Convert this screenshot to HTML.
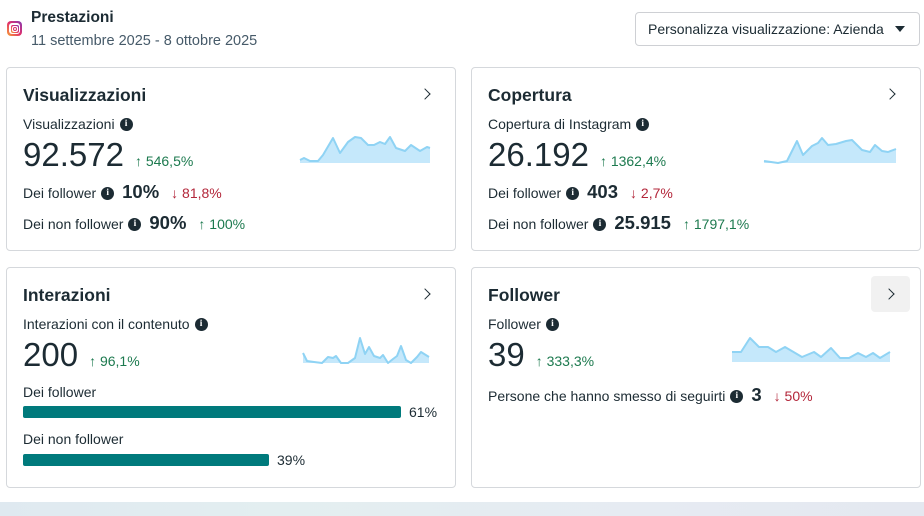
<!DOCTYPE html>
<html><head><meta charset="utf-8">
<style>
*{margin:0;padding:0;box-sizing:border-box}
body{width:924px;height:516px;background:#fff;font-family:"Liberation Sans",sans-serif;color:#1c2b33;position:relative;overflow:hidden}
.a{position:absolute;line-height:1;white-space:nowrap}
.card{position:absolute;border:1px solid #d5d8dc;border-radius:4px;background:#fff}
.t{font-size:17.5px;font-weight:bold}
.l{font-size:14px;color:#1c2b33}
.big{font-size:33px;color:#1c2b33}
.g{color:#1d7a4f;font-size:14px}
.r{color:#b3263a;font-size:14px}
.b{font-weight:bold;font-size:18.5px}
.row{display:flex;align-items:baseline}
.i{display:inline-block;width:13px;height:13px;border-radius:50%;background:#1c2b33;color:#fff;font-size:9.5px;font-weight:bold;text-align:center;line-height:13px;font-family:"Liberation Serif",serif;margin-left:5px;position:relative;top:-3px;vertical-align:0px}
.row .i{align-self:center;top:1px}
.chev{position:absolute;width:8px;height:8px;border-right:1.6px solid #1c2b33;border-top:1.6px solid #1c2b33;transform:rotate(45deg)}
.bar{position:absolute;height:12px;background:#007a7c;border-radius:2px}
</style></head><body>
<div class="a" style="left:7px;top:21px;width:15px;height:15px;border-radius:4px;background:linear-gradient(45deg,#f9a334,#e1306c 50%,#833ab4)"></div>
<div class="a" style="left:9px;top:23px;width:11px;height:11px;border-radius:3px;background:#fff"></div>
<div class="a" style="left:10.5px;top:24.5px;width:8px;height:8px;border-radius:2px;background:linear-gradient(45deg,#f9a334,#e1306c 50%,#833ab4)"></div>
<div class="a" style="left:11.5px;top:25.5px;width:6px;height:6px;border-radius:2px;background:#fff"></div>
<div class="a" style="left:12.5px;top:26.5px;width:4px;height:4px;border-radius:50%;border:1.2px solid #d6336c"></div>
<div class="a" style="left:31px;top:10px;font-size:15.5px;font-weight:bold">Prestazioni</div>
<div class="a" style="left:31px;top:34px;font-size:14.5px;color:#465a69">11 settembre 2025 - 8 ottobre 2025</div>
<div class="a" style="left:635px;top:12px;width:285px;height:34px;border:1px solid #ced0d4;border-radius:4px"></div>
<div class="a" style="left:648px;top:22px;font-size:14px">Personalizza visualizzazione: Azienda</div>
<div class="a" style="left:895px;top:26px;width:0;height:0;border-left:5.5px solid transparent;border-right:5.5px solid transparent;border-top:6px solid #1c2b33"></div>

<div class="card" style="left:6px;top:67px;width:450px;height:184px"></div>
<div class="card" style="left:471px;top:67px;width:450px;height:184px"></div>
<div class="card" style="left:6px;top:267px;width:450px;height:221px"></div>
<div class="card" style="left:471px;top:267px;width:450px;height:221px"></div>

<div class="a t" style="left:23px;top:87px">Visualizzazioni</div>
<div class="chev" style="left:421px;top:90px"></div>
<div class="a l" style="left:23px;top:117px">Visualizzazioni<span class="i">i</span></div>
<div class="a row" style="left:23px;top:138px"><span class="big">92.572</span><span class="g" style="margin-left:11px">↑ 546,5%</span></div>
<div class="a row l" style="left:23px;top:183px">Dei follower<span class="i">i</span><span class="b" style="margin-left:8px">10%</span><span class="r" style="margin-left:12px">↓ 81,8%</span></div>
<div class="a row l" style="left:23px;top:214px">Dei non follower<span class="i">i</span><span class="b" style="margin-left:8px">90%</span><span class="g" style="margin-left:12px">↑ 100%</span></div>

<div class="a t" style="left:488px;top:87px">Copertura</div>
<div class="chev" style="left:886px;top:90px"></div>
<div class="a l" style="left:488px;top:117px">Copertura di Instagram<span class="i">i</span></div>
<div class="a row" style="left:488px;top:138px"><span class="big">26.192</span><span class="g" style="margin-left:11px">↑ 1362,4%</span></div>
<div class="a row l" style="left:488px;top:183px">Dei follower<span class="i">i</span><span class="b" style="margin-left:8px">403</span><span class="r" style="margin-left:12px">↓ 2,7%</span></div>
<div class="a row l" style="left:488px;top:214px">Dei non follower<span class="i">i</span><span class="b" style="margin-left:8px">25.915</span><span class="g" style="margin-left:12px">↑ 1797,1%</span></div>

<div class="a t" style="left:23px;top:287px">Interazioni</div>
<div class="chev" style="left:421px;top:290px"></div>
<div class="a l" style="left:23px;top:317px">Interazioni con il contenuto<span class="i">i</span></div>
<div class="a row" style="left:23px;top:338px"><span class="big">200</span><span class="g" style="margin-left:11px">↑ 96,1%</span></div>
<div class="a l" style="left:23px;top:385px">Dei follower</div>
<div class="bar" style="left:23px;top:406px;width:378px"></div>
<div class="a l" style="left:409px;top:405px">61%</div>
<div class="a l" style="left:23px;top:432px">Dei non follower</div>
<div class="bar" style="left:23px;top:454px;width:246px"></div>
<div class="a l" style="left:277px;top:453px">39%</div>

<div class="a t" style="left:488px;top:287px">Follower</div>
<div class="a" style="left:871px;top:276px;width:39px;height:36px;background:#f1f1f1;border-radius:4px"></div>
<div class="chev" style="left:885px;top:290px"></div>
<div class="a l" style="left:488px;top:317px">Follower<span class="i">i</span></div>
<div class="a row" style="left:488px;top:338px"><span class="big">39</span><span class="g" style="margin-left:11px">↑ 333,3%</span></div>
<div class="a row l" style="left:488px;top:386px">Persone che hanno smesso di seguirti<span class="i">i</span><span class="b" style="margin-left:8px">3</span><span class="r" style="margin-left:12px">↓ 50%</span></div>

<svg class="a" style="left:0;top:0" width="924" height="516">
<g fill="#c5e8fb" stroke="#8fd3f4" stroke-width="2" stroke-linejoin="round">
<path d="M300,160 L304,158 L310,161 L318,161 L323,155 L333,138 L340,153 L348,142 L355,137 L361,138 L368,145 L374,145 L380,142 L385,144 L390,137 L396,148 L405,151 L411,145 L420,151 L427,147 L430,148 L430,163 L300,163 Z" stroke="none"/>
<polyline fill="none" points="300,160 304,158 310,161 318,161 323,155 333,138 340,153 348,142 355,137 361,138 368,145 374,145 380,142 385,144 390,137 396,148 405,151 411,145 420,151 427,147 430,148"/>
<path d="M764,161 L771,162 L778,163 L787,161 L797,141 L803,155 L812,146 L818,143 L822,138 L828,145 L836,144 L846,141 L852,140 L855,143 L862,150 L870,152 L875,145 L882,151 L888,152 L896,149 L896,163 L764,163 Z" stroke="none"/>
<polyline fill="none" points="764,161 771,162 778,163 787,161 797,141 803,155 812,146 818,143 822,138 828,145 836,144 846,141 852,140 855,143 862,150 870,152 875,145 882,151 888,152 896,149"/>
<path d="M303,353 L307,361 L314,362 L322,363 L328,357 L333,358 L336,356 L341,363 L348,363 L355,358 L360,338 L365,354 L369,347 L374,356 L380,358 L383,355 L388,363 L393,359 L397,356 L401,346 L406,360 L411,363 L417,357 L421,352 L429,357 L429,363 L303,363 Z" stroke="none"/>
<polyline fill="none" points="303,353 307,361 314,362 322,363 328,357 333,358 336,356 341,363 348,363 355,358 360,338 365,354 369,347 374,356 380,358 383,355 388,363 393,359 397,356 401,346 406,360 411,363 417,357 421,352 429,357"/>
<path d="M732,352 L741,352 L750,338 L759,347 L768,347 L776,352 L785,347 L802,357 L814,352 L821,357 L831,348 L840,358 L849,358 L858,353 L866,357 L873,353 L880,358 L890,352 L890,362 L732,362 Z" stroke="none"/>
<polyline fill="none" points="732,352 741,352 750,338 759,347 768,347 776,352 785,347 802,357 814,352 821,357 831,348 840,358 849,358 858,353 866,357 873,353 880,358 890,352"/>
</g>
</svg>

<div class="a" style="left:0;top:502px;width:924px;height:14px;background:linear-gradient(90deg,#dfe9f0,#e3eef0 30%,#e6ebf2 70%,#e4e8f0)"></div>
</body></html>
